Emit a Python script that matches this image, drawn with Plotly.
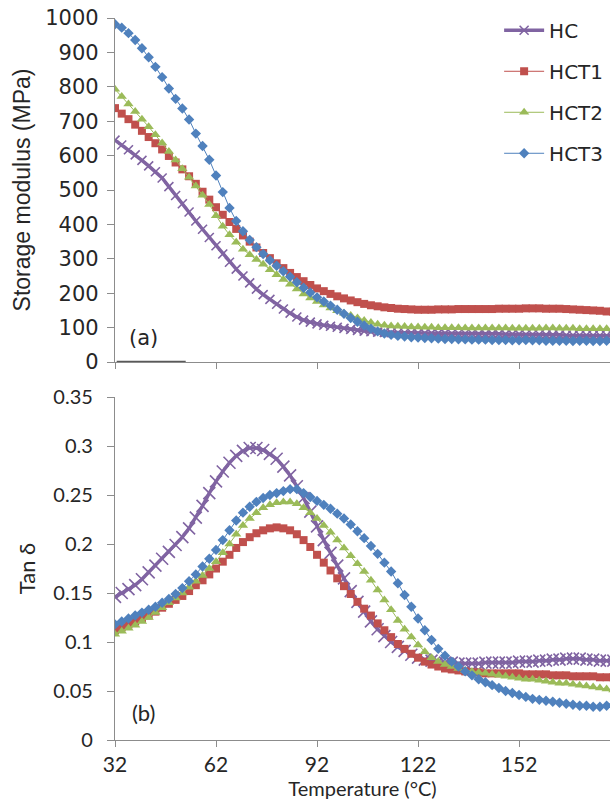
import plotly.graph_objects as go

# ---------------- data ----------------
temperature = list(range(32, 181, 2))  # °C

# Storage modulus (MPa)
E_HC = [645, 631, 617, 602, 586, 570, 553, 535, 510, 484, 460, 436, 410, 386, 362, 338, 314, 290, 270, 250,
        230, 212, 196, 182, 168, 154, 142, 131, 122, 116, 111, 107, 104, 101, 98, 95, 92, 90, 88, 87,
        86, 85, 85,
        85, 85, 84, 84, 84, 84, 84, 83, 83, 83, 83, 82, 82, 82, 82, 81, 81, 81, 80, 80, 80, 79, 79, 79,
        78, 78, 78, 78, 77, 77, 77, 76]
E_HCT1 = [738, 722, 706, 690, 672, 654, 636, 618, 599, 580, 560, 540, 518, 495, 472, 450, 428, 407, 387, 368,
          350, 333, 317, 302, 287, 273, 259, 247, 235, 224, 214, 206, 198, 191, 185, 179, 174, 169, 165, 162,
          159, 157, 155,
          154, 153, 152, 152, 152, 153, 153, 153, 154, 154, 154, 154, 154, 154, 155, 155, 155, 155, 156, 156,
          156, 155, 155, 155, 154, 153, 152, 151, 150, 149, 147, 146]
E_HCT2 = [793, 772, 750, 728, 706, 684, 661, 637, 612, 587, 562, 537, 512, 485, 458, 425, 395, 370, 348, 328,
          312, 298, 284, 268, 254, 240, 226, 212, 198, 186, 176, 166, 157, 149, 142, 135, 128, 121, 115, 110,
          107, 105, 104,
          103, 102, 102, 101, 101, 100, 100, 100, 100, 99, 99, 99, 99, 99, 99, 99, 98, 98, 98, 98, 98, 99,
          99, 98, 98, 98, 97, 97, 97, 97, 97, 96]
E_HCT3 = [982, 972, 956, 936, 912, 886, 858, 828, 795, 765, 737, 705, 664, 628, 588, 542, 494, 448, 410, 380,
          355, 334, 314, 296, 280, 264, 248, 232, 216, 202, 188, 176, 164, 152, 140, 128, 117, 106, 97, 89,
          83, 79, 76,
          74, 72, 71, 70, 69, 68, 67, 67, 66, 66, 65, 65, 65, 64, 64, 64, 63, 63, 64, 63, 63, 62, 62, 62,
          62, 61, 62, 62, 61, 61, 62, 62]

# Tan delta
T_HC = [0.146, 0.150, 0.154, 0.158, 0.164, 0.171, 0.178, 0.185, 0.192, 0.199, 0.207, 0.216, 0.227, 0.239,
        0.252, 0.264, 0.274, 0.283, 0.290, 0.295, 0.298, 0.298, 0.296, 0.292, 0.287, 0.279, 0.270, 0.259,
        0.247, 0.233, 0.218, 0.204, 0.191, 0.178, 0.165, 0.152, 0.141, 0.131, 0.121, 0.113, 0.106, 0.100,
        0.095,
        0.091, 0.087, 0.084, 0.082, 0.081, 0.080, 0.079, 0.079, 0.078, 0.078, 0.078, 0.078, 0.079, 0.079,
        0.079, 0.079, 0.079, 0.080, 0.080, 0.080, 0.081, 0.081, 0.082, 0.082, 0.083, 0.083, 0.083, 0.082,
        0.082, 0.081, 0.081, 0.081]
T_HCT1 = [0.112, 0.115, 0.118, 0.121, 0.124, 0.127, 0.131, 0.135, 0.139, 0.143, 0.147, 0.152, 0.158, 0.163,
          0.169, 0.175, 0.182, 0.189, 0.196, 0.202, 0.207, 0.211, 0.214, 0.216, 0.217, 0.216, 0.214, 0.210,
          0.204, 0.197, 0.189, 0.181, 0.173, 0.165, 0.157, 0.149, 0.141, 0.134, 0.127, 0.119, 0.112, 0.105,
          0.098,
          0.093, 0.088, 0.084, 0.080, 0.077, 0.075, 0.073, 0.072, 0.071, 0.070, 0.069, 0.069, 0.068, 0.068,
          0.068, 0.068, 0.068, 0.068, 0.067, 0.067, 0.067, 0.067, 0.066, 0.066, 0.066, 0.065, 0.065, 0.065,
          0.065, 0.064, 0.064, 0.064]
T_HCT2 = [0.108, 0.111, 0.114, 0.117, 0.121, 0.125, 0.130, 0.135, 0.140, 0.145, 0.150, 0.156, 0.162, 0.168,
          0.175, 0.182, 0.191, 0.200, 0.210, 0.219, 0.226, 0.232, 0.237, 0.240, 0.242, 0.243, 0.243, 0.241,
          0.237, 0.232, 0.226, 0.219, 0.212, 0.204, 0.196, 0.188, 0.180, 0.172, 0.163, 0.153, 0.143, 0.133,
          0.122,
          0.113, 0.105, 0.097, 0.090, 0.084, 0.080, 0.077, 0.075, 0.073, 0.071, 0.070, 0.069, 0.068, 0.067,
          0.066, 0.065, 0.064, 0.063, 0.062, 0.062, 0.061, 0.060, 0.059, 0.058, 0.058, 0.057, 0.056, 0.055,
          0.054, 0.053, 0.052, 0.051]
T_HCT3 = [0.118, 0.121, 0.124, 0.127, 0.130, 0.133, 0.136, 0.140, 0.144, 0.149, 0.155, 0.162, 0.169, 0.177,
          0.185, 0.194, 0.204, 0.214, 0.224, 0.232, 0.238, 0.243, 0.247, 0.250, 0.252, 0.254, 0.256, 0.256,
          0.252, 0.248, 0.244, 0.240, 0.236, 0.231, 0.226, 0.220, 0.213, 0.206, 0.198, 0.190, 0.181, 0.172,
          0.160,
          0.148, 0.136, 0.124, 0.112, 0.102, 0.093, 0.086, 0.080, 0.075, 0.070, 0.066, 0.062, 0.059, 0.056,
          0.053, 0.050, 0.048, 0.046, 0.044, 0.042, 0.041, 0.040, 0.039, 0.038, 0.037, 0.036, 0.035, 0.035,
          0.034, 0.034, 0.035, 0.036]

# short dark segment lying on the zero line of panel (a)
zero_seg_T = [32.5, 53]
zero_seg_val = [1, 1]

series_names = ["HC", "HCT1", "HCT2", "HCT3"]
x_ticks = [32, 62, 92, 122, 152]

# ---------------- styles ----------------
colors = {"HC": "#8064A2", "HCT1": "#C0504D", "HCT2": "#9BBB59", "HCT3": "#4F81BD"}
symbols = {"HC": "x-thin", "HCT1": "square", "HCT2": "triangle-up", "HCT3": "diamond"}
line_w = {"HC": 3.5, "HCT1": 1, "HCT2": 1, "HCT3": 1}
size_top = {"HC": 9, "HCT1": 8, "HCT2": 9, "HCT3": 8}
size_bot = {"HC": 12, "HCT1": 8, "HCT2": 9, "HCT3": 8}

E_data = {"HC": E_HC, "HCT1": E_HCT1, "HCT2": E_HCT2, "HCT3": E_HCT3}
T_data = {"HC": T_HC, "HCT1": T_HCT1, "HCT2": T_HCT2, "HCT3": T_HCT3}

fig = go.Figure()


def marker_for(name, size):
    m = dict(symbol=symbols[name], size=size, color=colors[name])
    if name == "HC":
        m["line"] = dict(color=colors[name], width=1.6)
    else:
        m["line"] = dict(width=0)
    return m


for name in series_names:
    fig.add_trace(go.Scatter(
        x=temperature, y=E_data[name], name=name, mode="lines+markers",
        line=dict(color=colors[name], width=line_w[name]),
        marker=marker_for(name, size_top[name]),
        legendgroup=name, showlegend=True, xaxis="x", yaxis="y"))

fig.add_trace(go.Scatter(
    x=zero_seg_T, y=zero_seg_val, mode="lines", line=dict(color="#595959", width=2),
    showlegend=False, hoverinfo="skip", xaxis="x", yaxis="y"))

for name in series_names:
    fig.add_trace(go.Scatter(
        x=temperature, y=T_data[name], name=name, mode="lines+markers",
        line=dict(color=colors[name], width=line_w[name]),
        marker=marker_for(name, size_bot[name]),
        legendgroup=name, showlegend=False, xaxis="x2", yaxis="y2"))

axis_col = "#8C8C8C"
txt_col = "#262626"
x_range = [32, 179]

fig.update_layout(
    width=610, height=801,
    margin=dict(l=115, r=0, t=18, b=61),
    paper_bgcolor="white", plot_bgcolor="white",
    showlegend=True,
    legend=dict(x=0.776, xanchor="left", y=1.01, yanchor="top",
                font=dict(family="DejaVu Sans", size=20, color=txt_col),
                itemwidth=40, tracegroupgap=12, bgcolor="rgba(0,0,0,0)"),
    xaxis=dict(domain=[0, 1], anchor="y", range=x_range, tickmode="array", tickvals=x_ticks,
               showticklabels=False, ticks="outside", ticklen=6, tickcolor=axis_col,
               showline=True, linecolor=axis_col, linewidth=1.3, showgrid=False, zeroline=False),
    yaxis=dict(domain=[0.5235, 1], anchor="x", range=[0, 1000], dtick=100, tick0=0,
               ticks="outside", ticklen=7, tickcolor=axis_col, ticklabelstandoff=4,
               showline=True, linecolor=axis_col, linewidth=1.3, showgrid=False, zeroline=False,
               tickfont=dict(family="DejaVu Sans", size=21, color=txt_col),
               title=dict(text="Storage modulus (MPa)", standoff=8,
                          font=dict(family="Liberation Sans", size=23, color=txt_col))),
    xaxis2=dict(domain=[0, 1], anchor="y2", range=x_range, tickmode="array", tickvals=x_ticks,
                ticks="outside", ticklen=6, tickcolor=axis_col,
                showline=True, linecolor=axis_col, linewidth=1.3, showgrid=False, zeroline=False,
                tickfont=dict(family="Lato", size=21, color=txt_col),
                title=dict(text="Temperature (°C)", standoff=4,
                           font=dict(family="Lato", size=20, color=txt_col))),
    yaxis2=dict(domain=[0, 0.475], anchor="x2", range=[0, 0.35], dtick=0.05, tick0=0,
                ticks="outside", ticklen=7, tickcolor=axis_col, ticklabelstandoff=10,
                showline=True, linecolor=axis_col, linewidth=1.3, showgrid=False, zeroline=False,
                tickfont=dict(family="Lato", size=20, color=txt_col),
                title=dict(text="Tan δ", standoff=11,
                           font=dict(family="Lato", size=22, color=txt_col))),
    annotations=[
        dict(text="(a)", xref="x domain", yref="y domain", x=0.057, y=0.07,
             xanchor="center", yanchor="middle",
             showarrow=False, font=dict(family="DejaVu Sans", size=21, color=txt_col)),
        dict(text="(b)", xref="x2 domain", yref="y2 domain", x=0.057, y=0.08,
             xanchor="center", yanchor="middle",
             showarrow=False, font=dict(family="Lato", size=22, color=txt_col)),
    ],
)

fig.write_html(
    "out.html",
    config={"displayModeBar": False},
    post_script="document.body.style.margin='0';document.body.style.overflow='hidden';",
)
